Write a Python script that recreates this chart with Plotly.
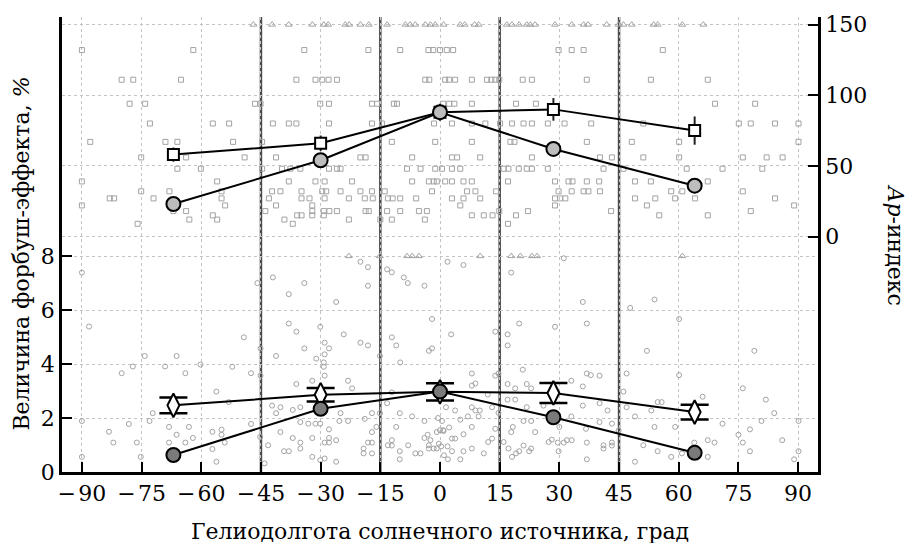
import plotly.graph_objects as go

# ---------------- main series ----------------
lon = [-67, -30, 0, 28.5, 64]
ap_sq = [58, 66, 88, 90, 75]          # Ap, squares (upper)
ap_sq_err = [5, 5.5, 6, 8, 10]
ap_ci = [23, 54, 88, 62, 36]          # Ap, grey circles (upper)
fe_dia = [2.47, 2.86, 2.97, 2.93, 2.22]   # Forbush effect, diamonds
fe_dia_err = [0.29, 0.25, 0.32, 0.37, 0.27]
fe_ci = [0.63, 2.34, 2.98, 2.03, 0.71]    # Forbush effect, dark circles

sector_bounds = [-45, -15, 15, 45]
x_ticks = [-90, -75, -60, -45, -30, -15, 0, 15, 30, 45, 60, 75, 90]
x_ticktext = ["\u2212\u200a90", "\u2212\u200a75", "\u2212\u200a60", "\u2212\u200a45",
              "\u2212\u200a30", "\u2212\u200a15", "0", "15", "30", "45", "60", "75", "90"]
fe_ticks = [0, 2, 4, 6, 8]
ap_ticks = [0, 50, 100, 150]

# ---------------- background Ap points (squares) ----------------
ap_bg_x = [
    # Ap 132
    -90.0, -62.0, -34.1, -18.0, -10.0, -2.9, -1.7, 0.0, 1.7, 3.3, 29.8, 33.1, 36.1, 56.0,
    # Ap 111
    -80.0, -77.1, -65.1, -36.1, -31.3, -29.6, -28.0, -25.9, -3.7, -2.7, 1.3, 2.3, 3.8, 8.0,
    11.8, 12.9, 13.9, 14.9, 20.8, 23.1, 36.9, 53.0, 67.3,
    # Ap 94
    -78.0, -74.1, -46.5, -45.1, -30.1, -27.9, -17.1, -15.8, -11.6, -10.8, 0.8, 2.3, 3.6, 8.0,
    19.1, 24.1, 69.1, 79.2,
    # Ap 80
    -72.9, -57.1, -53.0, -42.0, -38.0, -36.1, -27.9, -17.1, -14.6, -1.5, 3.0, 8.0, 11.4, 15.1,
    18.1, 21.0, 23.1, 27.1, 31.3, 38.0, 51.1, 75.1, 78.1, 84.2, 90.1,
    # Ap 67
    -87.9, -69.0, -66.0, -52.0, -44.7, -12.1, -1.2, 8.0, 17.7, 18.7, 36.9, 48.2, 60.1, 90.1,
    # Ap 56
    -75.1, -63.8, -49.1, -41.2, -20.0, -18.7, -7.0, 3.0, 4.3, 10.1, 23.1, 40.2, 43.2, 51.1,
    60.1, 76.1, 82.1, 86.1,
    # Ap 48
    -66.0, -60.1, -44.7, -39.7, -37.6, -35.1, -27.9, -25.9, -25.0, -8.3, -4.9, -1.2, 0.5, 3.0,
    5.1, 16.0, 17.2, 19.8, 21.8, 23.1, 27.1, 41.1, 46.1, 62.0, 71.0, 81.0,
    # Ap 39
    -90.0, -56.0, -38.0, -31.3, -29.0, -22.1, -7.0, -2.8, -1.6, -0.8, 1.3, 3.0, 5.9, 8.0,
    17.1, 28.9, 32.3, 33.3, 36.9, 40.0, 49.0, 53.0, 67.3,
    # Ap 32
    -75.1, -68.0, -54.9, -42.2, -40.1, -34.8, -29.6, -28.6, -25.0, -20.0, -17.1, -13.9, -2.0,
    6.8, 8.9, 14.1, 29.8, 33.1, 36.1, 37.3, 40.2, 58.1, 60.9, 76.1,
    # Ap 27
    -83.0, -81.9, -72.0, -54.9, -43.0, -34.8, -32.8, -29.0, -22.9, -18.9, -16.9, -13.1, -11.9,
    -10.0, -6.0, 3.0, 5.9, 10.1, 28.9, 30.2, 31.5, 49.0, 54.1, 59.1, 64.1, 84.2,
    # Ap 22
    -90.0, -54.0, -41.2, -32.1, 5.1, 28.9, 52.0, 89.0,
    # Ap 18
    -67.0, -63.8, -43.9, -32.1, -29.2, -27.8, -25.9, -18.7, -17.9, -13.3, -10.0, -5.3, -3.3,
    14.9, 22.1, 43.0, 78.1,
    # Ap 15
    -57.1, -35.9, -34.8, -32.1, -29.2, 8.0, 11.0, 13.2, 19.1, 55.1, 67.3,
    # Ap 12
    -63.0, -56.0, -39.1, -22.9, -15.0, -12.1, -3.8,
    # Ap 9
    -76.0, -37.0, 17.1,
]
ap_bg_y = ([132] * 14 + [111] * 23 + [94] * 18 + [80] * 25 + [67] * 14 + [56] * 18 +
           [48] * 26 + [39] * 23 + [32] * 24 + [27] * 26 + [22] * 8 + [18] * 17 +
           [15] * 11 + [12] * 7 + [9] * 3)

# Ap values above the axis top (drawn as triangles at 150)
ap_over_x = [-46.9, -42.2, -38.0, -32.1, -29.2, -28.1, -23.8, -22.8, -20.0, -17.9, -13.3,
             -8.7, -7.5, -6.2, -3.7, -2.4, -1.2, 0.9, 5.1, 6.2, 8.7, 9.7, 16.8, 18.1, 19.9,
             21.8, 22.7, 23.9, 28.9, 33.1, 36.1, 37.2, 41.9, 44.9, 46.1, 48.2, 53.7, 54.7,
             60.9, 66.2]
ap_over_y = [150] * len(ap_over_x)

# ---------------- background Forbush-effect points (circles) ----------------
fe_bg_x = [
    -90.0, -88.2, -49.3, -74.2, -66.2, -80.0, -77.2, -69.1, -64.0, -60.2, -52.2, -47.5, -56.2,
    -53.1, -72.2, -73.0, -90.0, -78.2, -83.2, -82.1, -76.2, -68.1, -66.2, -63.1, -68.1, -64.0,
    -62.1, -57.2, -54.9, -54.9, -54.1, -57.2, -56.2, -90.0, -75.2, -47.5,
    -20.0, -18.1, -45.9, -42.0, -34.1, -18.1, -13.3, -12.1, -9.1, -8.1, -3.9, -38.0, -26.1,
    -2.0, -38.0, -36.1, -30.1, -24.2, -20.0, -18.1, -12.1, -11.0, -15.1, -2.8, -2.0, -45.1,
    -34.1, -29.0, -27.9, -29.0, -41.2, -31.1, -29.2, -29.2, -29.0, -45.1, -10.0, -36.1, -32.1,
    -23.1, -22.1, -42.2, -41.2, -40.1, -37.0, -35.1, -35.1, -33.1, -31.3, -30.1, -25.0, -25.3,
    -23.1, -18.9, -17.1, -15.1, -17.1, -16.0, -13.3, -12.1, -10.1, -7.0, -11.0, -3.9, -45.2,
    -43.2, -40.1, -39.2, -38.0, -37.0, -35.1, -35.1, -32.1, -32.1, -30.1, -29.0, -29.0, -27.9,
    -27.9, -27.9, -26.1, -26.1, -19.2, -19.2, -18.1, -17.1, -17.1, -13.1, -12.1, -12.1, -10.1,
    -10.1, -8.0, -6.2, -4.9, -3.9, -3.1, -2.4, -2.8, -2.8, -1.6, -0.8, -0.8, -44.1,
    0.0, 0.8, -0.3, 0.3, 1.0, 1.9, -0.5, 1.5, 2.3,
    31.1, 1.9, 5.9, 17.9, 35.9, 19.9, 28.9, 36.9, 2.8, 13.9, 17.0, 17.0, 47.8, 8.0, 13.9, 14.7,
    20.8, 8.0, 8.9, 17.0, 18.9, 21.8, 22.9, 33.0, 36.9, 37.9, 40.1, 35.9, 46.9, 46.1, 12.0,
    17.0, 18.9, 21.8, 26.0, 35.9, 40.1, 42.1, 46.9, 33.0, 8.0, 8.9, 10.0, 3.8, 13.1, 14.7, 9.7,
    5.1, 7.0, 21.0, 22.9, 30.0, 36.7, 40.1, 43.2, 44.9, 0.5, 0.9, 13.9, 18.3, 17.9, 23.9, 5.9,
    3.0, 3.8, 8.0, 12.1, 13.1, 16.0, 27.3, 28.1, 29.6, 31.1, 31.9, 33.1, 36.9, 41.1, 41.1,
    43.2, 43.2, 3.0, 5.9, 8.0, 11.0, 17.2, 18.1, 19.1, 19.9, 21.0, 22.4, 22.9, 29.8, 36.9, 2.0,
    5.1,
    53.9, 60.1, 52.0, 79.0, 60.1, 76.1, 66.0, 81.9, 54.7, 55.7, 53.1, 84.0, 49.0, 71.0, 80.8,
    90.1, 53.9, 59.1, 75.0, 77.9, 76.1, 86.0, 51.1, 54.7, 58.1, 63.9, 67.3, 69.0, 67.3, 77.9,
    90.1, 89.0, 49.0, 60.8,
]
fe_bg_y = [
    7.39, 5.39, 4.99, 4.30, 4.30, 3.66, 3.91, 3.91, 3.66, 3.98, 3.90, 3.66, 2.98,
    2.59, 2.18, 1.89, 1.89, 1.78, 1.49, 1.09, 1.09, 1.67, 1.38, 1.67, 1.09, 1.09,
    1.26, 1.49, 1.57, 1.38, 1.09, 0.85, 0.38, 0.56, 0.56, 1.78,
    7.79, 7.59, 7.00, 7.21, 7.00, 6.90, 7.51, 7.40, 7.21, 7.00, 6.90, 6.59, 6.30,
    5.67, 5.50, 5.20, 5.38, 5.10, 4.79, 4.69, 4.99, 4.69, 4.30, 4.49, 4.58, 4.58,
    4.58, 4.79, 4.58, 4.36, 4.30, 4.20, 4.06, 3.90, 3.57, 3.57, 4.06, 3.26, 3.38,
    3.38, 3.10, 2.46, 2.18, 2.40, 2.30, 2.40, 1.85, 1.79, 1.79, 1.79, 2.18, 1.89,
    1.89, 1.97, 2.18, 2.18, 1.48, 1.67, 2.55, 2.95, 2.18, 2.06, 1.67, 1.89, 1.30,
    0.99, 1.48, 0.77, 0.77, 1.26, 1.09, 0.87, 1.26, 0.56, 0.44, 0.50, 1.09, 1.58,
    1.26, 1.09, 1.18, 0.38, 0.87, 0.69, 1.09, 1.09, 0.69, 0.99, 1.18, 0.98, 0.77,
    0.47, 0.99, 0.69, 0.69, 1.26, 1.38, 1.18, 0.99, 0.87, 0.87, 1.48, 0.87, 0.32,
    1.55, 1.55, 1.05, 0.95, 0.62, 0.95, 2.00, 2.40, 1.65,
    7.92, 7.79, 7.67, 7.39, 6.30, 5.50, 5.38, 5.50, 5.10, 5.20, 5.10, 4.69, 6.08, 3.65, 3.57, 3.65,
    3.79, 3.20, 3.28, 3.26, 3.10, 3.26, 3.10, 3.38, 3.65, 3.59, 3.57, 3.17, 3.65, 2.98, 2.87,
    2.68, 2.68, 2.40, 2.46, 2.46, 2.55, 2.28, 2.40, 2.06, 2.40, 2.28, 2.28, 2.28, 2.40, 2.19, 2.06,
    1.94, 2.06, 1.89, 1.89, 1.67, 1.60, 1.85, 1.79, 1.54, 1.89, 1.52, 1.60, 1.67, 1.48, 1.48, 1.40,
    1.24, 1.24, 1.67, 1.11, 1.24, 1.11, 1.11, 1.20, 1.09, 1.09, 1.18, 1.18, 1.09, 0.99, 0.87,
    1.09, 0.98, 0.77, 0.77, 0.87, 0.69, 0.87, 0.56, 0.69, 0.77, 0.98, 0.77, 0.87, 0.77, 0.47, 0.47,
    0.47,
    6.39, 5.67, 4.49, 4.49, 3.59, 3.10, 2.79, 2.68, 2.59, 2.59, 2.28, 2.18, 2.06, 1.79, 1.89,
    1.89, 1.67, 1.67, 1.38, 1.58, 1.09, 1.18, 0.99, 0.77, 0.56, 1.09, 1.18, 1.09, 0.56, 0.77,
    0.77, 0.47, 0.38, 0.69,
]
# Forbush effect values above 8 % (drawn as triangles at 8)
fe_over_x = [-22.9, -15.1, -8.3, -7.0, -5.3, 10.1, 17.9, 20.2, 23.1, 24.4, 60.9]
fe_over_y = [8] * len(fe_over_x)

FONT = "DejaVu Serif"
BG = "#a3a3a3"

fig = go.Figure()

# background clouds
fig.add_trace(go.Scatter(x=ap_bg_x, y=ap_bg_y, yaxis="y2", mode="markers",
                         marker=dict(symbol="square-open", size=5, color=BG, line=dict(width=1)),
                         hoverinfo="skip", showlegend=False))
fig.add_trace(go.Scatter(x=ap_over_x, y=ap_over_y, yaxis="y2", mode="markers",
                         marker=dict(symbol="triangle-up-open", size=6, color=BG, line=dict(width=1)),
                         hoverinfo="skip", showlegend=False, cliponaxis=False))
fig.add_trace(go.Scatter(x=fe_bg_x, y=fe_bg_y, mode="markers",
                         marker=dict(symbol="circle-open", size=5, color=BG, line=dict(width=1)),
                         hoverinfo="skip", showlegend=False))
fig.add_trace(go.Scatter(x=fe_over_x, y=fe_over_y, mode="markers",
                         marker=dict(symbol="triangle-up-open", size=6, color=BG, line=dict(width=1)),
                         hoverinfo="skip", showlegend=False))

# upper: squares with error bars
fig.add_trace(go.Scatter(x=lon, y=ap_sq, yaxis="y2", mode="lines+markers",
                         line=dict(color="black", width=2),
                         marker=dict(symbol="square", size=11, color="white",
                                     line=dict(color="black", width=2)),
                         error_y=dict(type="data", array=ap_sq_err, color="#222", thickness=2, width=0),
                         showlegend=False))
# upper: grey circles
fig.add_trace(go.Scatter(x=lon, y=ap_ci, yaxis="y2", mode="lines+markers",
                         line=dict(color="black", width=2),
                         marker=dict(symbol="circle", size=14, color="#bdbdbd",
                                     line=dict(color="black", width=2)),
                         showlegend=False))
# lower: diamonds with error bars
fig.add_trace(go.Scatter(x=lon, y=fe_dia, mode="lines+markers",
                         line=dict(color="black", width=2),
                         marker=dict(symbol="diamond-tall", size=17, color="white",
                                     line=dict(color="black", width=2)),
                         error_y=dict(type="data", array=fe_dia_err, color="black", thickness=2.5, width=14),
                         showlegend=False))
# lower: dark circles
fig.add_trace(go.Scatter(x=lon, y=fe_ci, mode="lines+markers",
                         line=dict(color="black", width=2),
                         marker=dict(symbol="circle", size=14, color="#7a7a7a",
                                     line=dict(color="black", width=2)),
                         showlegend=False))

for b in sector_bounds:
    fig.add_shape(type="line", xref="x", yref="paper", x0=b, x1=b, y0=0, y1=1,
                  line=dict(color="#4a4a4a", width=2.5), layer="between")

grid = dict(showgrid=True, gridcolor="#c4c4c4", gridwidth=1, griddash="dot")
tickfont = dict(family=FONT, size=22, color="black")
titlefont = dict(family=FONT, size=22, color="black")

fig.update_layout(
    width=910, height=543,
    margin=dict(l=62, r=92, t=14, b=71),
    plot_bgcolor="white", paper_bgcolor="white",
    xaxis=dict(range=[-95, 95], tickvals=x_ticks, ticktext=x_ticktext, ticks="inside",
               ticklen=10, tickwidth=2, tickcolor="black", showline=True, linecolor="black",
               linewidth=2.5, zeroline=False, tickfont=tickfont, **grid),
    yaxis=dict(range=[0, 16.86], tickvals=fe_ticks, ticks="inside", ticklen=10, tickwidth=2,
               tickcolor="black", showline=True, linecolor="black", linewidth=2.5,
               zeroline=False, tickfont=tickfont, **grid),
    yaxis2=dict(range=[-166.7, 155.4], tickvals=ap_ticks, ticks="inside", ticklen=10,
                tickwidth=2, tickcolor="black", showline=True, linecolor="black", linewidth=2.5,
                zeroline=False, side="right", overlaying="y", tickfont=tickfont, **grid),
    font=dict(family=FONT, color="black"),
    annotations=[
        dict(text="Гелиодолгота солнечного источника, град", xref="paper", yref="paper",
             x=0.5, y=0, yshift=-59, showarrow=False, yanchor="middle", font=titlefont),
        dict(text="Величина форбуш-эффекта, <i>%</i>", xref="paper", yref="paper",
             x=0, y=0.48, xshift=-40, showarrow=False, textangle=-90, xanchor="center",
             font=titlefont),
        dict(text="<i>Ap</i>-индекс", xref="paper", yref="paper",
             x=1, y=0.5, xshift=77, showarrow=False, textangle=90, xanchor="center",
             font=titlefont),
    ],
)

fig.write_html("out.html")
